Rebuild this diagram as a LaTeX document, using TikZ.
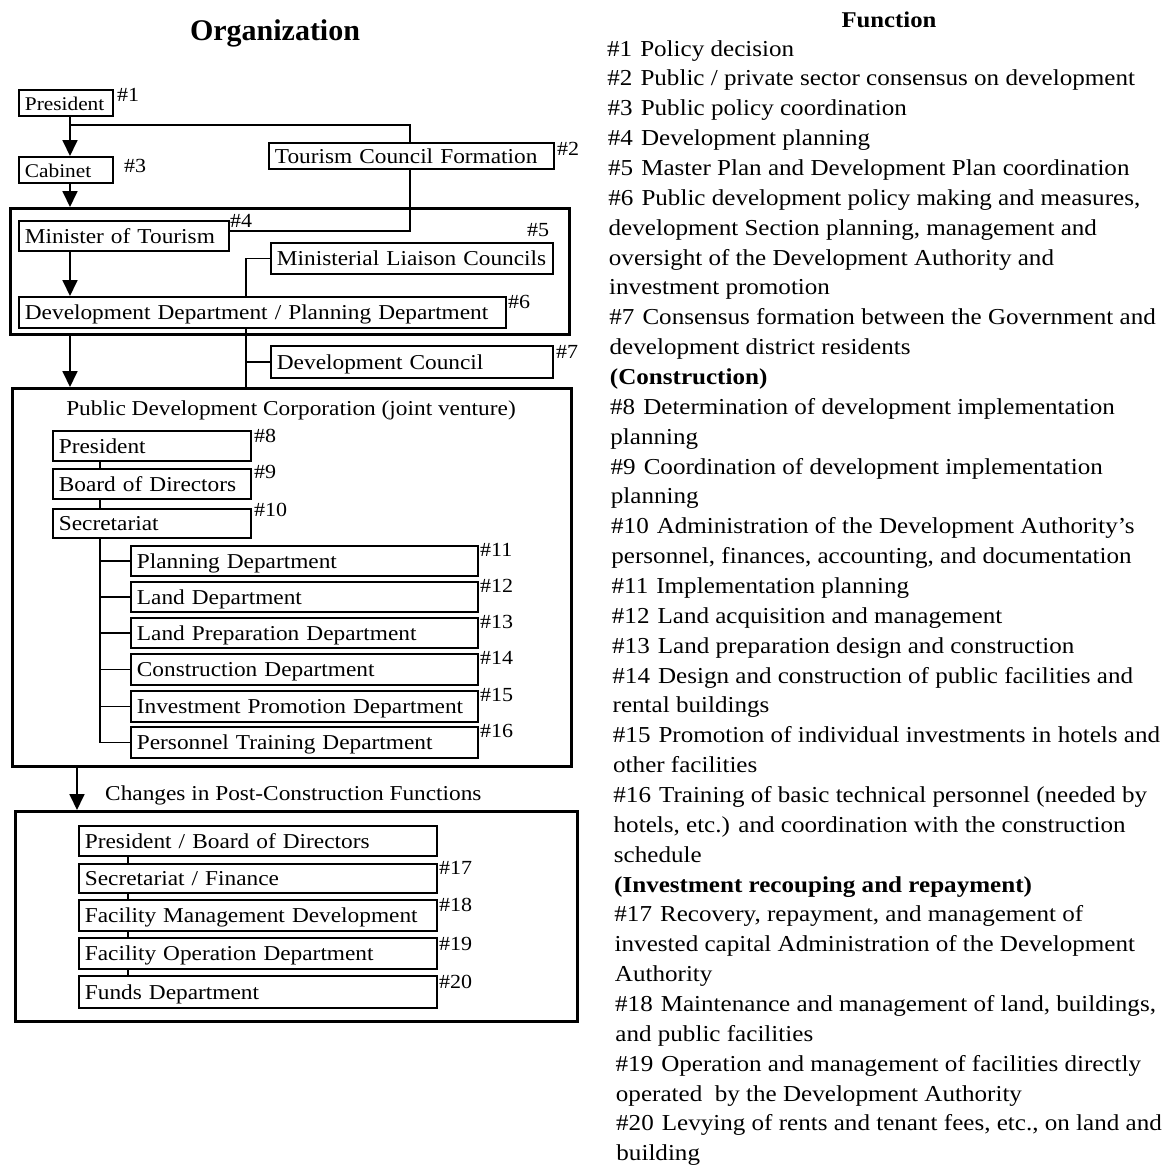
\documentclass[tikz,border=0pt]{standalone}
\usepackage{fontspec}
\setmainfont{Liberation Serif}[FakeStretch=1.1]
\newfontfamily\headfont{Liberation Serif}
\usetikzlibrary{arrows.meta}

\newcommand{\obfont}{\fontsize{21.2}{24}\selectfont}
\newcommand{\obsmall}{\fontsize{19.4}{22}\selectfont}
\newcommand{\tgfont}{\fontsize{20}{22}\selectfont}
\newcommand{\fcfont}{\fontsize{22.8}{26}\selectfont}
\newcommand{\fsp}{\hspace{0.35em}}

\begin{document}
\begin{tikzpicture}[x=1pt,y=-1pt,
  ob/.style={draw, line width=1.8pt, anchor=north west, inner xsep=6pt, inner ysep=0pt,
             align=left, text height=15pt, text depth=0pt, font=\obfont,
             execute at begin node=\hbox\bgroup, execute at end node=\egroup},
  frame/.style={draw, line width=2.6pt, anchor=north west, inner sep=0pt},
  conn/.style={line width=1.8pt},
  arr/.style={line width=1.8pt, -{Triangle[width=15pt,length=16pt]}},
  tag/.style={anchor=north west, inner sep=0pt, font=\tgfont},
  fn/.style={anchor=base west, inner sep=0pt, font=\fcfont},
]
\useasboundingbox (0,0) rectangle (1176,1168);
\fill[white] (0,0) rectangle (1176,1168);

% ---------- titles ----------
\node[anchor=base, inner sep=0pt, font=\headfont\bfseries\fontsize{30}{34}\selectfont]
  (orgtitle) at (275,40) {Organization};
\node[anchor=base, inner sep=0pt, font=\bfseries\fontsize{22.5}{26}\selectfont]
  (fntitle) at (889,27) {Function};

% ---------- government level ----------
\node[ob, font=\obsmall, text width=82pt, minimum height=26pt] (president) at (18,89) {President};
\node[ob, font=\obsmall, text width=82pt, minimum height=26pt] (cabinet) at (18,156) {Cabinet};
\node[ob, text width=273pt, minimum height=26pt] (tourism) at (268,142) {Tourism Council Formation};

\node[frame, minimum width=559pt, minimum height=126pt] (box1) at (9,207) {};
\node[ob, text width=198pt, minimum height=30pt] (minister) at (18,220) {Minister of Tourism};
\node[ob, text width=270pt, minimum height=31pt] (ministerial) at (270,242) {Ministerial Liaison Councils};
\node[ob, text width=475pt, minimum height=31pt] (devdept) at (18,296) {Development Department / Planning Department};
\node[ob, text width=270pt, minimum height=32pt] (devcouncil) at (270,345) {Development Council};

\node[tag] (t1) at (117,88) {\#1};
\node[tag] (t3) at (124,159) {\#3};
\node[tag] (t2) at (557,142) {\#2};
\node[tag] (t4) at (230,214) {\#4};
\node[tag] (t5) at (527,223) {\#5};
\node[tag] (t6) at (508,295) {\#6};
\node[tag] (t7) at (556,345) {\#7};

% ---------- public development corporation ----------
\node[frame, minimum width=559pt, minimum height=378pt] (box2) at (11,387) {};
\node[anchor=base, inner sep=0pt, font=\obfont] (corptitle) at (291,415)
  {Public Development Corporation (joint venture)};
\node[ob, text width=186pt, minimum height=30pt] (p8) at (52,430) {President};
\node[ob, text width=186pt, minimum height=30pt] (board) at (52,468) {Board of Directors};
\node[ob, text width=186pt, minimum height=29pt] (secr) at (52,508) {Secretariat};

\node[ob, text width=335pt, minimum height=30pt] (planning) at (130,545) {Planning Department};
\node[ob, text width=335pt, minimum height=30pt] (land) at (130,581) {Land Department};
\node[ob, text width=335pt, minimum height=30pt] (landprep) at (130,617) {Land Preparation Department};
\node[ob, text width=335pt, minimum height=31pt] (construction) at (130,653) {Construction Department};
\node[ob, text width=335pt, minimum height=31pt] (investment) at (130,690) {Investment Promotion Department};
\node[ob, text width=335pt, minimum height=31pt] (personnel) at (130,726) {Personnel Training Department};

\node[tag] (t8) at (254,429) {\#8};
\node[tag] (t9) at (254,465) {\#9};
\node[tag] (t10) at (254,503) {\#10};
\node[tag] (t11) at (480,543) {\#11};
\node[tag] (t12) at (480,579) {\#12};
\node[tag] (t13) at (480,615) {\#13};
\node[tag] (t14) at (480,651) {\#14};
\node[tag] (t15) at (480,688) {\#15};
\node[tag] (t16) at (480,724) {\#16};

% ---------- after construction ----------
\node[anchor=base west, inner sep=0pt, font=\obfont] (changes) at (105,800)
  {Changes in Post-Construction Functions};
\node[frame, minimum width=562pt, minimum height=210pt] (box3) at (14,810) {};
\node[ob, text width=346pt, minimum height=30pt] (pbd) at (78,825) {President / Board of Directors};
\node[ob, text width=346pt, minimum height=29pt] (sf) at (78,863) {Secretariat / Finance};
\node[ob, text width=346pt, minimum height=31pt] (fmd) at (78,899) {Facility Management Development};
\node[ob, text width=346pt, minimum height=31pt] (fod) at (78,937) {Facility Operation Department};
\node[ob, text width=346pt, minimum height=32pt] (fd) at (78,975) {Funds Department};

\node[tag] (t17) at (439,861) {\#17};
\node[tag] (t18) at (439,898) {\#18};
\node[tag] (t19) at (439,937) {\#19};
\node[tag] (t20) at (439,975) {\#20};

% ---------- connectors ----------
\coordinate (ax) at (70,0);
\coordinate (bx) at (77,0);
\coordinate (pj) at (70,125);
\coordinate (tx) at (410,0);
\coordinate (lx) at (246,0);
\coordinate (sx) at (100,0);
\coordinate (cx) at (128,0);

\draw[arr] (president.south -| ax) -- (cabinet.north -| ax);
\draw[arr] (cabinet.south -| ax) -- (box1.north -| ax);
\draw[arr] (minister.south -| ax) -- (devdept.north -| ax);
\draw[arr] (box1.south -| ax) -- (box2.north -| ax);
\draw[arr] (box2.south -| bx) -- (box3.north -| bx);

\draw[conn] (pj) -| (tourism.north -| tx);
\draw[conn] (tourism.south -| tx) |- ([yshift=5pt]minister.east);
\draw[conn] (ministerial.west) -| (devdept.north -| lx);
\draw[conn] (devdept.south -| lx) |- (devcouncil.west);
\draw[conn] (devcouncil.west -| lx) -- (box2.north -| lx);

\draw[conn] (p8.south -| sx) -- (board.north -| sx);
\draw[conn] (board.south -| sx) -- (secr.north -| sx);
\draw[conn] (secr.south -| sx) |- (personnel.west);
\foreach \d in {planning,land,landprep,construction,investment}
  \draw[conn] (sx |- \d.west) -- (\d.west);

\draw[conn] (pbd.south -| cx) -- (sf.north -| cx);
\draw[conn] (sf.south -| cx) -- (fmd.north -| cx);
\draw[conn] (fmd.south -| cx) -- (fod.north -| cx);
\draw[conn] (fod.south -| cx) -- (fd.north -| cx);

% ---------- function list ----------
\foreach \t [count=\i] in {
  {\#1\fsp Policy decision},
  {\#2\fsp Public / private sector consensus on development},
  {\#3\fsp Public policy coordination},
  {\#4\fsp Development planning},
  {\#5\fsp Master Plan and Development Plan coordination},
  {\#6\fsp Public development policy making and measures,},
  {development Section planning, management and},
  {oversight of the Development Authority and},
  {investment promotion},
  {\#7\fsp Consensus formation between the Government and},
  {development district residents},
  {\textbf{(Construction)}},
  {\#8\fsp Determination of development implementation},
  {planning},
  {\#9\fsp Coordination of development implementation},
  {planning},
  {\#10\fsp Administration of the Development Authority's},
  {personnel, finances, accounting, and documentation},
  {\#11\fsp Implementation planning},
  {\#12\fsp Land acquisition and management},
  {\#13\fsp Land preparation design and construction},
  {\#14\fsp Design and construction of public facilities and},
  {rental buildings},
  {\#15\fsp Promotion of individual investments in hotels and},
  {other facilities},
  {\#16\fsp Training of basic technical personnel (needed by},
  {hotels, etc.) and coordination with the construction},
  {schedule},
  {\textbf{(Investment recouping and repayment)}},
  {\#17\fsp Recovery, repayment, and management of},
  {invested capital Administration of the Development},
  {Authority},
  {\#18\fsp Maintenance and management of land, buildings,},
  {and public facilities},
  {\#19\fsp Operation and management of facilities directly},
  {operated~ by the Development Authority},
  {\#20\fsp Levying of rents and tenant fees, etc., on land and},
  {building}}
  \node[fn] (fl\i) at ({607+0.25*(\i-1)},{56+(\i-1)*29.86}) {\t};
\end{tikzpicture}
\end{document}
